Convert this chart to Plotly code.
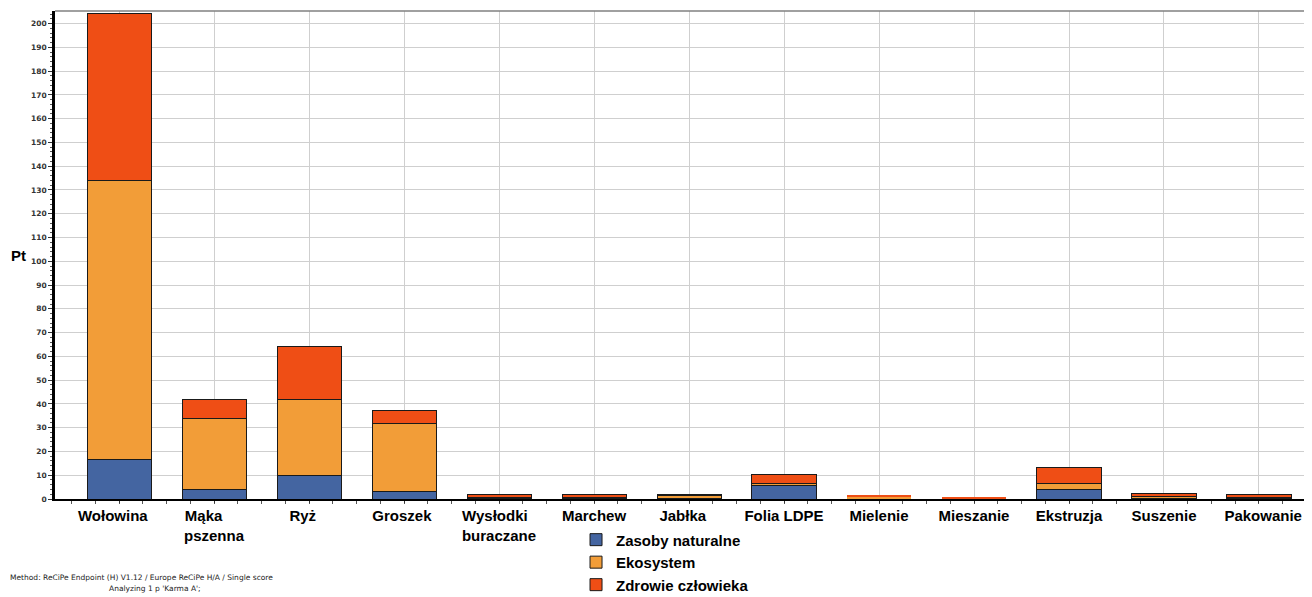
import plotly.graph_objects as go

categories = ["Wołowina", "Mąka<br>pszenna", "Ryż", "Groszek", "Wysłodki<br>buraczane",
              "Marchew", "Jabłka", "Folia LDPE", "Mielenie", "Mieszanie",
              "Ekstruzja", "Suszenie", "Pakowanie"]
series_names = ["Zasoby naturalne", "Ekosystem", "Zdrowie człowieka"]
zasoby = [16.8, 3.9, 9.8, 3.1, 0.3, 0.4, 0.3, 5.6, 0.05, 0.02, 3.9, 0.4, 0.1]
ekosystem = [117.4, 29.9, 32.0, 28.6, 0.5, 0.2, 1.0, 0.8, 1.1, 0.05, 2.8, 0.5, 0.6]
zdrowie = [70.2, 8.0, 22.3, 5.5, 1.3, 1.2, 0.6, 3.7, 0.35, 0.5, 6.5, 1.3, 1.0]
colors = ["#4465A1", "#F29D38", "#EF4E15"]
y_ticks = list(range(0, 201, 10))

# outline drawn only on bars that are visibly outlined in the reference
outline_width = [1, 1, 1, 1, 1, 1, 1, 1, 0, 0, 1, 1, 1]

# pad labels so they sit as in the reference (multi-line ones left-aligned)
nb = "\u00a0"
tick_text = ["Wołowina" + nb * 3, "Mąka" + nb * 5 + "<br>pszenna", "Ryż" + nb * 3, "Groszek" + nb,
             "Wysłodki" + nb * 2 + "<br>buraczane", "Marchew", "Jabłka" + nb * 3, "Folia LDPE",
             "Mielenie", "Mieszanie", "Ekstruzja", "Suszenie", nb * 2 + "Pakowanie"]

x = list(range(len(categories)))
fig = go.Figure()
for name, vals, col in zip(series_names, [zasoby, ekosystem, zdrowie], colors):
    fig.add_trace(go.Bar(
        x=x, y=vals, name=name, width=0.674,
        marker=dict(color=col, line=dict(color="#1a1a1a", width=outline_width)),
    ))

FONT = "Liberation Sans, Arial, sans-serif"
SMALL = "DejaVu Sans, Verdana, sans-serif"

fig.update_layout(
    barmode="stack",
    width=1304, height=589,
    margin=dict(l=47, r=0, t=3, b=98, autoexpand=False),
    paper_bgcolor="white", plot_bgcolor="white",
    font=dict(family=FONT, color="black"),
    showlegend=True,
    legend=dict(
        x=0.4145, y=-0.050, xanchor="left", yanchor="top",
        orientation="v", traceorder="normal",
        font=dict(size=15, family=FONT, color="black", weight="bold"),
        itemwidth=30, tracegroupgap=0, bgcolor="rgba(0,0,0,0)",
    ),
    xaxis=dict(
        range=[-0.674, 12.558],
        tickmode="array", tickvals=x, ticktext=tick_text,
        tickfont=dict(size=15, family=FONT, color="black", weight="bold"),
        showgrid=True, gridcolor="#cfcfcf", gridwidth=1,
        showline=True, linecolor="black", linewidth=2,
        ticks="outside", ticklen=2, tickcolor="#333",
        minor=dict(dtick=0.25, tick0=0, ticks="outside", ticklen=3, tickcolor="#555", showgrid=False),
        zeroline=False, tickangle=0,
    ),
    yaxis=dict(
        range=[0, 205.3],
        tickmode="array", tickvals=y_ticks,
        tickfont=dict(size=7.5, family=SMALL, color="#333", weight="bold"),
        showgrid=True, gridcolor="#cfcfcf", gridwidth=1,
        showline=True, linecolor="black", linewidth=2.5,
        ticks="outside", ticklen=4, tickcolor="#333",
        minor=dict(dtick=2, ticks="outside", ticklen=2, tickcolor="#555", showgrid=False),
        zeroline=False,
    ),
)

fig.add_shape(type="line", xref="paper", yref="paper", x0=0, x1=1, y0=1, y1=1,
              line=dict(color="#808080", width=1.5))

fig.add_annotation(text="<b>Pt</b>", xref="paper", yref="paper", x=-0.0294, y=0.5,
                   xanchor="center", yanchor="middle", showarrow=False,
                   font=dict(size=15, family=FONT, color="black"))
fig.add_annotation(text="Method: ReCiPe Endpoint (H) V1.12 / Europe ReCiPe H/A / Single score",
                   xref="paper", yref="paper", x=-0.0374, y=-0.160,
                   xanchor="left", yanchor="middle", showarrow=False,
                   font=dict(size=7.5, family=SMALL, color="#222"))
fig.add_annotation(text="Analyzing 1 p 'Karma A';",
                   xref="paper", yref="paper", x=0.0796, y=-0.1844,
                   xanchor="center", yanchor="middle", showarrow=False,
                   font=dict(size=7.5, family=SMALL, color="#222"))

fig.write_html("out.html")
